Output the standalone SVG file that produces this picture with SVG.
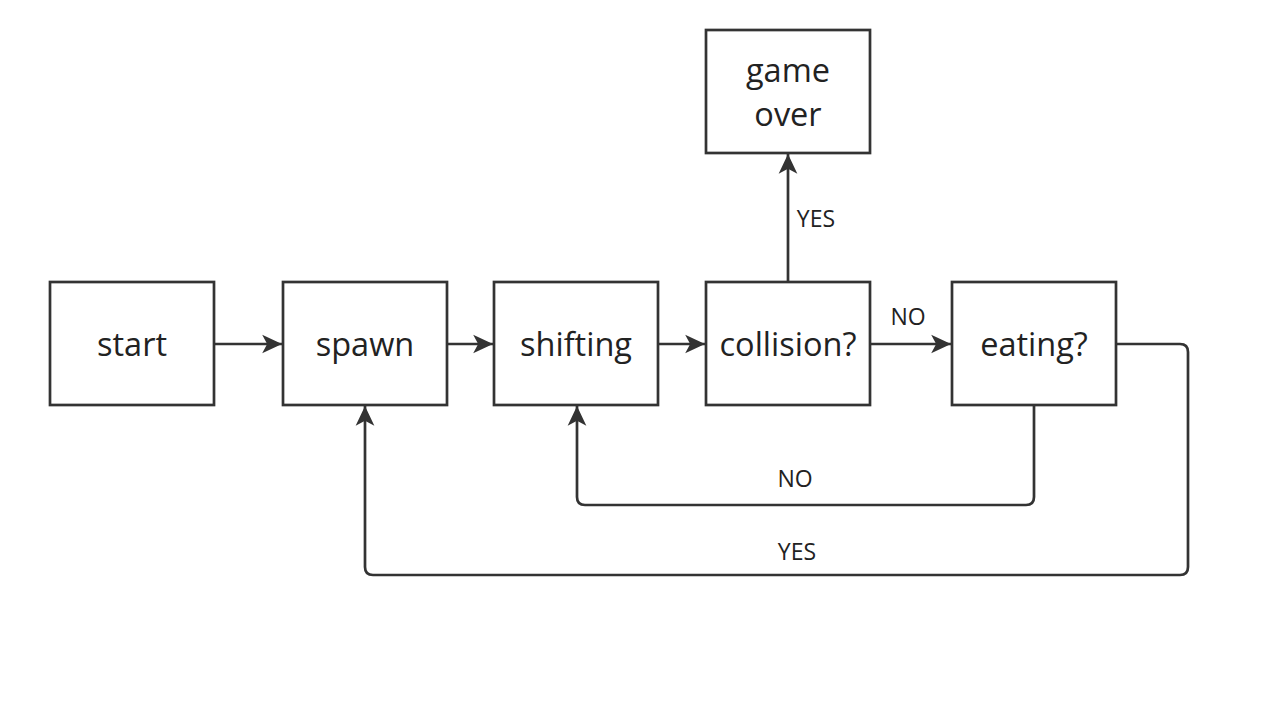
<svg xmlns="http://www.w3.org/2000/svg" width="1280" height="721" viewBox="0 0 1280 721">
<defs>
<style>
.box{fill:#fff;stroke:#333;stroke-width:2.7}
.t{font-family:"Open Sans","Noto Sans","Liberation Sans",sans-serif;font-size:32.5px;fill:#222;text-anchor:middle}
.l{font-family:"Open Sans","Noto Sans","Liberation Sans",sans-serif;font-size:23px;fill:#222;text-anchor:middle}
.c{fill:none;stroke:#333;stroke-width:2.7}
</style>
<marker id="ah" markerUnits="userSpaceOnUse" markerWidth="22" markerHeight="22" viewBox="0 0 20 20" refX="18" refY="10" orient="auto">
<path d="M0,1.5 L18,10 L0,18.5 L4.5,10 Z" fill="#333"/>
</marker>
</defs>
<rect width="1280" height="721" fill="#fff"/>
<g id="connectors">
<path class="c" d="M214,344 H282" marker-end="url(#ah)"/>
<path class="c" d="M447,344 H493" marker-end="url(#ah)"/>
<path class="c" d="M658,344 H705" marker-end="url(#ah)"/>
<path class="c" d="M870,344 H951" marker-end="url(#ah)"/>
<path class="c" d="M788,282 V154" marker-end="url(#ah)"/>
<path class="c" d="M1034,405 V497 Q1034,505 1026,505 H585 Q577,505 577,497 V406" marker-end="url(#ah)"/>
<path class="c" d="M1116,344 H1180 Q1188,344 1188,352 V567 Q1188,575 1180,575 H373 Q365,575 365,567 V406" marker-end="url(#ah)"/>
<text class="l" x="816" y="227">YES</text>
<text class="l" x="908" y="325">NO</text>
<text class="l" x="795" y="487">NO</text>
<text class="l" x="797" y="560">YES</text>
</g>
<g id="start"><rect class="box" x="50" y="282" width="164" height="123"/><text class="t" x="132" y="356">start</text></g>
<g id="spawn"><rect class="box" x="283" y="282" width="164" height="123"/><text class="t" x="365" y="356">spawn</text></g>
<g id="shifting"><rect class="box" x="494" y="282" width="164" height="123"/><text class="t" x="576" y="356">shifting</text></g>
<g id="collision"><rect class="box" x="706" y="282" width="164" height="123"/><text class="t" x="788" y="356">collision?</text></g>
<g id="eating"><rect class="box" x="952" y="282" width="164" height="123"/><text class="t" x="1034" y="356">eating?</text></g>
<g id="gameover"><rect class="box" x="706" y="30" width="164" height="123"/><text class="t" x="788" y="82">game</text><text class="t" x="788" y="126">over</text></g>
</svg>
